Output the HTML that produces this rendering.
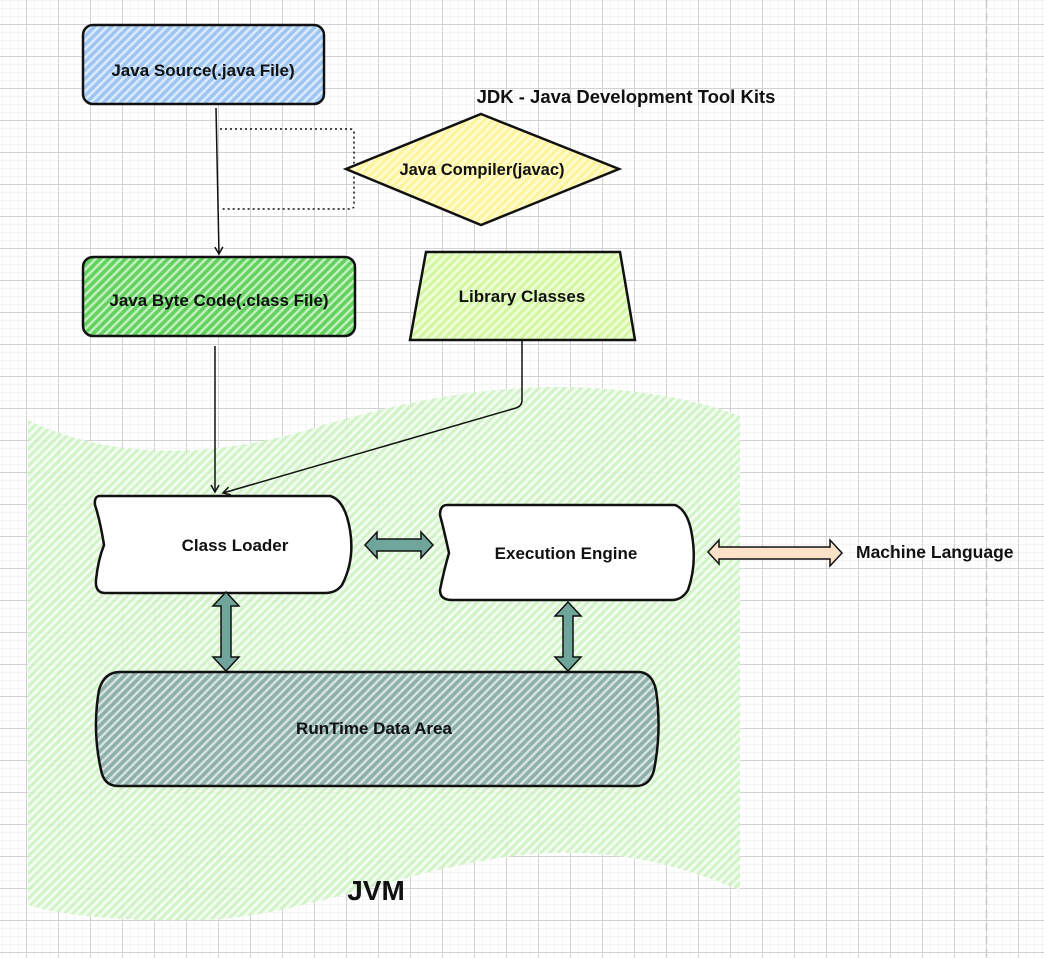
<!DOCTYPE html>
<html><head><meta charset="utf-8"><style>
html,body{margin:0;padding:0;background:#fff}
svg{display:block}
text{font-family:"Liberation Sans",sans-serif;font-weight:bold;fill:#111}
</style></head><body>
<svg width="1044" height="958" viewBox="0 0 1044 958" xmlns="http://www.w3.org/2000/svg">
<defs>
<pattern id="minor" width="8" height="8" patternUnits="userSpaceOnUse" x="2" y="0">
<path d="M0 0H8M0 0V8" stroke="#f0f0f0" stroke-width="1.5" fill="none"/>
</pattern>
<pattern id="major" width="32" height="32" patternUnits="userSpaceOnUse" x="26" y="24">
<path d="M0 0.5H32M0.5 0V32" stroke="#d2d2d2" stroke-width="1" fill="none"/>
</pattern>
<pattern id="hg" width="6" height="6" patternUnits="userSpaceOnUse" patternTransform="rotate(45)">
<rect width="6" height="6" fill="#f1fcee"/><rect width="3" height="6" fill="#cdf2c2"/>
</pattern>
<pattern id="hb" width="6" height="6" patternUnits="userSpaceOnUse" patternTransform="rotate(45)">
<rect width="6" height="6" fill="#dcebfb"/><rect width="3.5" height="6" fill="#9fc6f2"/>
</pattern>
<pattern id="hgr" width="6" height="6" patternUnits="userSpaceOnUse" patternTransform="rotate(45)">
<rect width="6" height="6" fill="#c2eec0"/><rect width="3.5" height="6" fill="#62d25e"/>
</pattern>
<pattern id="hy" width="6" height="6" patternUnits="userSpaceOnUse" patternTransform="rotate(45)">
<rect width="6" height="6" fill="#fffbd0"/><rect width="3" height="6" fill="#fff39a"/>
</pattern>
<pattern id="hl" width="6" height="6" patternUnits="userSpaceOnUse" patternTransform="rotate(45)">
<rect width="6" height="6" fill="#eefcd8"/><rect width="3" height="6" fill="#d2f7a0"/>
</pattern>
<pattern id="ht" width="6" height="6" patternUnits="userSpaceOnUse" patternTransform="rotate(45)">
<rect width="6" height="6" fill="#d6e3e0"/><rect width="3.5" height="6" fill="#8db0a8"/>
</pattern>
<marker id="ah" markerWidth="10" markerHeight="10" refX="8" refY="5" orient="auto" markerUnits="userSpaceOnUse">
<path d="M1 1L8 5L1 9" fill="none" stroke="#111" stroke-width="1.5"/>
</marker>
</defs>
<rect width="1044" height="958" fill="#fff"/>
<rect width="1044" height="958" fill="url(#minor)"/>
<rect width="1044" height="958" fill="url(#major)"/>
<line x1="986.5" y1="0" x2="986.5" y2="958" stroke="#c8c8c8" stroke-width="1.5" stroke-dasharray="8,5"/>

<path d="M28 420 C90 450 180 465 300 432 C420 395 520 380 620 390 C680 396 720 408 740 416 L740 890 C690 870 620 845 520 855 C400 870 300 918 200 920 C120 922 60 915 28 905 Z" fill="url(#hg)" opacity="0.9"/>

<rect x="83" y="25" width="241" height="79" rx="10" fill="url(#hb)" stroke="#111" stroke-width="2.5"/>
<text x="203" y="76" font-size="17" text-anchor="middle">Java Source(.java File)</text>

<path d="M220 129H350Q354 129 354 133V205Q354 209 350 209H220" fill="none" stroke="#111" stroke-width="1.5" stroke-dasharray="2,3"/>

<text x="626" y="103" font-size="18.5" text-anchor="middle">JDK - Java Development Tool Kits</text>

<path d="M481 114L619 169L481 225L346 169Z" fill="url(#hy)" stroke="#111" stroke-width="2.5"/>
<text x="482" y="175" font-size="16.5" text-anchor="middle">Java Compiler(javac)</text>

<line x1="216" y1="108" x2="219" y2="254" stroke="#111" stroke-width="1.5" marker-end="url(#ah)"/>

<rect x="83" y="257" width="272" height="79" rx="10" fill="url(#hgr)" stroke="#111" stroke-width="2.5"/>
<text x="219" y="306" font-size="17" text-anchor="middle">Java Byte Code(.class File)</text>

<path d="M426 252H620L635 340H410Z" fill="url(#hl)" stroke="#111" stroke-width="2.5"/>
<text x="522" y="302" font-size="17" text-anchor="middle">Library Classes</text>

<line x1="215" y1="346" x2="215" y2="492" stroke="#111" stroke-width="1.5" marker-end="url(#ah)"/>
<path d="M522 341V400Q522 406 516 408L223 493" fill="none" stroke="#111" stroke-width="1.5" marker-end="url(#ah)"/>

<path d="M100 496H330Q345 500 350 530Q355 560 342 585Q336 593 325 593H105Q95 593 96 580Q98 560 104 545Q100 520 95 505Q94 496 100 496Z" fill="#fff" stroke="#111" stroke-width="2.5"/>
<text x="235" y="551" font-size="17" text-anchor="middle">Class Loader</text>

<path d="M447 505H675Q688 510 692 535Q697 565 688 590Q682 600 672 600H452Q440 600 440 590Q444 570 449 553Q444 530 440 515Q440 505 447 505Z" fill="#fff" stroke="#111" stroke-width="2.5"/>
<text x="566" y="559" font-size="17" text-anchor="middle">Execution Engine</text>

<path d="M365 545L377 532V539H421V532L433 545L421 558V551H377V558Z" fill="#6fa59b" stroke="#111" stroke-width="1.5"/>
<path d="M226 592L239 606H231V657H239L226 671L213 657H221V606H213Z" fill="#6fa59b" stroke="#111" stroke-width="1.5"/>
<path d="M568 602L581 616H573V657H581L568 671L555 657H563V616H555Z" fill="#6fa59b" stroke="#111" stroke-width="1.5"/>

<path d="M708 552L719 540V547H830V540L842 553L830 566V559H719V564Z" fill="#fbe2c8" stroke="#111" stroke-width="1.5"/>
<text x="856" y="558" font-size="17.5">Machine Language</text>

<path d="M120 672H638Q652 672 656 690Q662 730 654 770Q650 786 636 786H118Q104 786 101 770Q92 730 99 690Q104 672 120 672Z" fill="url(#ht)" stroke="#111" stroke-width="2.5"/>
<text x="374" y="734" font-size="17" text-anchor="middle">RunTime Data Area</text>

<text x="376" y="900" font-size="28" text-anchor="middle">JVM</text>
</svg>
</body></html>
